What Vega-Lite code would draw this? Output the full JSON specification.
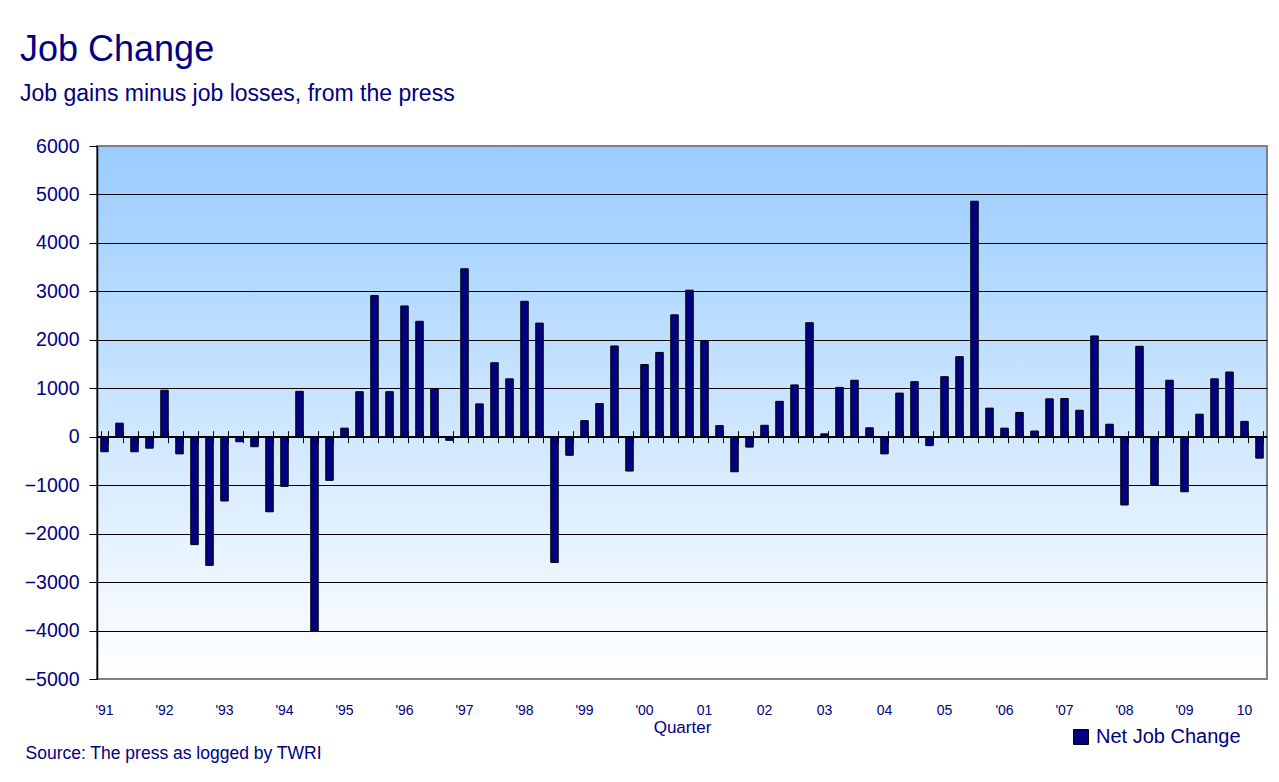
{
  "$schema": "https://vega.github.io/schema/vega-lite/v6.json",
  "width": 1170,
  "height": 533,
  "autosize": {"type": "none"},
  "padding": {"left": 97, "top": 146, "right": 12, "bottom": 103},
  "background": "#ffffff",
  "title": {
    "text": "Job Change",
    "subtitle": "Job gains minus job losses, from the press",
    "anchor": "start",
    "frame": "group",
    "dx": -77,
    "offset": 29,
    "font": "Liberation Sans, Arial, sans-serif",
    "fontSize": 36,
    "fontWeight": "normal",
    "color": "#000080",
    "subtitleFont": "Liberation Sans, Arial, sans-serif",
    "subtitleFontSize": 23,
    "subtitleColor": "#000080",
    "subtitlePadding": 14
  },
  "config": {
    "font": "Liberation Sans, Arial, sans-serif",
    "view": {
      "stroke": "#808080",
      "strokeWidth": 2,
      "fill": {
        "gradient": "linear",
        "x1": 0, "y1": 0, "x2": 0, "y2": 1,
        "stops": [
          {"offset": 0, "color": "#99CCFF"},
          {"offset": 1, "color": "#FFFFFF"}
        ]
      }
    }
  },
  "data": {
    "values": [
      {"quarter": "'91 Q1", "value": -310}, {"quarter": "'91 Q2", "value": 280}, {"quarter": "'91 Q3", "value": -310}, {"quarter": "'91 Q4", "value": -236},
      {"quarter": "'92 Q1", "value": 959}, {"quarter": "'92 Q2", "value": -354}, {"quarter": "'92 Q3", "value": -2227}, {"quarter": "'92 Q4", "value": -2655},
      {"quarter": "'93 Q1", "value": -1327}, {"quarter": "'93 Q2", "value": -103}, {"quarter": "'93 Q3", "value": -206}, {"quarter": "'93 Q4", "value": -1549},
      {"quarter": "'94 Q1", "value": -1025}, {"quarter": "'94 Q2", "value": 937}, {"quarter": "'94 Q3", "value": -4012}, {"quarter": "'94 Q4", "value": -900},
      {"quarter": "'95 Q1", "value": 177}, {"quarter": "'95 Q2", "value": 929}, {"quarter": "'95 Q3", "value": 2913}, {"quarter": "'95 Q4", "value": 929},
      {"quarter": "'96 Q1", "value": 2699}, {"quarter": "'96 Q2", "value": 2382}, {"quarter": "'96 Q3", "value": 996}, {"quarter": "'96 Q4", "value": -74},
      {"quarter": "'97 Q1", "value": 3466}, {"quarter": "'97 Q2", "value": 678}, {"quarter": "'97 Q3", "value": 1527}, {"quarter": "'97 Q4", "value": 1195},
      {"quarter": "'98 Q1", "value": 2795}, {"quarter": "'98 Q2", "value": 2345}, {"quarter": "'98 Q3", "value": -2596}, {"quarter": "'98 Q4", "value": -383},
      {"quarter": "'99 Q1", "value": 332}, {"quarter": "'99 Q2", "value": 686}, {"quarter": "'99 Q3", "value": 1873}, {"quarter": "'99 Q4", "value": -708},
      {"quarter": "'00 Q1", "value": 1490}, {"quarter": "'00 Q2", "value": 1740}, {"quarter": "'00 Q3", "value": 2515}, {"quarter": "'00 Q4", "value": 3024},
      {"quarter": "01 Q1", "value": 1969}, {"quarter": "01 Q2", "value": 229}, {"quarter": "01 Q3", "value": -723}, {"quarter": "01 Q4", "value": -214},
      {"quarter": "02 Q1", "value": 236}, {"quarter": "02 Q2", "value": 730}, {"quarter": "02 Q3", "value": 1069}, {"quarter": "02 Q4", "value": 2353},
      {"quarter": "03 Q1", "value": 59}, {"quarter": "03 Q2", "value": 1018}, {"quarter": "03 Q3", "value": 1165}, {"quarter": "03 Q4", "value": 184},
      {"quarter": "04 Q1", "value": -354}, {"quarter": "04 Q2", "value": 900}, {"quarter": "04 Q3", "value": 1136}, {"quarter": "04 Q4", "value": -184},
      {"quarter": "05 Q1", "value": 1239}, {"quarter": "05 Q2", "value": 1652}, {"quarter": "05 Q3", "value": 4860}, {"quarter": "05 Q4", "value": 590},
      {"quarter": "'06 Q1", "value": 177}, {"quarter": "'06 Q2", "value": 501}, {"quarter": "'06 Q3", "value": 118}, {"quarter": "'06 Q4", "value": 782},
      {"quarter": "'07 Q1", "value": 789}, {"quarter": "'07 Q2", "value": 546}, {"quarter": "'07 Q3", "value": 2080}, {"quarter": "'07 Q4", "value": 258},
      {"quarter": "'08 Q1", "value": -1409}, {"quarter": "'08 Q2", "value": 1866}, {"quarter": "'08 Q3", "value": -996}, {"quarter": "'08 Q4", "value": 1165},
      {"quarter": "'09 Q1", "value": -1136}, {"quarter": "'09 Q2", "value": 465}, {"quarter": "'09 Q3", "value": 1195}, {"quarter": "'09 Q4", "value": 1335},
      {"quarter": "10 Q1", "value": 317}, {"quarter": "10 Q2", "value": -442}
    ]
  },
  "resolve": {"axis": {"x": "independent"}},
  "layer": [
    {
      "mark": {"type": "point", "opacity": 0},
      "encoding": {
        "x": {
          "field": "quarter", "type": "nominal", "sort": null,
          "scale": {"type": "band", "paddingInner": 0.5, "paddingOuter": 0.25},
          "axis": {
            "orient": "bottom",
            "offset": -248.3,
            "domain": false,
            "labels": false,
            "grid": false,
            "ticks": true,
            "tickBand": "extent",
            "tickSize": 12,
            "tickColor": "#000000",
            "tickWidth": 1,
            "title": "Source: The press as logged by TWRI",
            "titleX": -72,
            "titleY": 328,
            "titleAlign": "left",
            "titleBaseline": "alphabetic",
            "titleAngle": 0,
            "titleFontSize": 17.5,
            "titleFontWeight": "normal",
            "titleColor": "#000080"
          }
        },
        "y": {"field": "value", "type": "quantitative"}
      }
    },
    {
      "mark": {"type": "rule", "color": "#000000", "strokeWidth": 1.5},
      "encoding": {"y": {"datum": 0, "type": "quantitative"}}
    },
    {
      "mark": {"type": "bar", "stroke": "#000000", "strokeWidth": 1},
      "encoding": {
        "x": {
          "field": "quarter", "type": "nominal", "sort": null,
          "axis": {
            "orient": "bottom",
            "domain": false,
            "ticks": false,
            "grid": false,
            "labelExpr": "indexof(datum.value, 'Q1') > 0 ? split(datum.value, ' ')[0] : ''",
            "labelAngle": 0,
            "labelOverlap": false,
            "labelFontSize": 14,
            "labelColor": "#000080",
            "labelPadding": 24,
            "title": "Quarter",
            "titleFontSize": 17,
            "titleFontWeight": "normal",
            "titleColor": "#000080",
            "titlePadding": 2
          }
        },
        "y": {
          "field": "value", "type": "quantitative",
          "scale": {"domain": [-5000, 6000], "nice": false},
          "axis": {
            "values": [-5000, -4000, -3000, -2000, -1000, 0, 1000, 2000, 3000, 4000, 5000, 6000],
            "format": "d",
            "title": null,
            "grid": true,
            "gridColor": {"condition": {"test": "datum.value == 6000 || datum.value == -5000", "value": "#808080"}, "value": "#000000"},
            "gridWidth": 1,
            "domainColor": "#000000",
            "domainWidth": 1.5,
            "tickColor": "#000000",
            "tickSize": 8,
            "labelFontSize": 19.5,
            "labelColor": "#000080",
            "labelPadding": 10
          }
        },
        "color": {
          "datum": "Net Job Change",
          "scale": {"range": ["#000080"]},
          "legend": {
            "title": null,
            "orient": "none",
            "legendX": 974,
            "legendY": 581,
            "symbolType": "square",
            "symbolSize": 225,
            "symbolStrokeColor": "#000000",
            "symbolStrokeWidth": 1,
            "labelFontSize": 20,
            "labelColor": "#000080",
            "labelOffset": 5
          }
        }
      }
    }
  ]
}
